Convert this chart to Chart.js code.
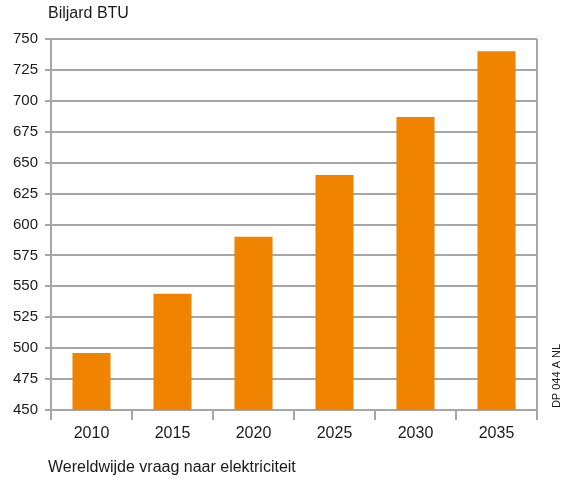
<!DOCTYPE html>
<html>
<head>
<meta charset="utf-8">
<script src="https://cdn.jsdelivr.net/npm/chart.js@4"></script>
<style>
  html, body { margin: 0; padding: 0; background: #fff; }
  #wrap { width: 569px; height: 480px; }
</style>
</head>
<body>
<div id="wrap"><canvas id="c" width="569" height="480"></canvas></div>
<script>
const years = ["2010", "2015", "2020", "2025", "2030", "2035"];
const demand = [496, 544, 590, 640, 687, 740];
const unitLabel = "Biljard BTU";
const footLabel = "Wereldwijde vraag naar elektriciteit";
const codeLabel = "DP 044 A NL";

const gridGrey = "#a6a6a6";
const fontFam = "'Liberation Sans', Arial, sans-serif";

/* loose texts around the plot + right frame line */
const extras = {
  id: "extras",
  afterDraw(chart) {
    const {ctx, chartArea} = chart;
    ctx.save();
    ctx.strokeStyle = gridGrey;
    ctx.lineWidth = 2;
    ctx.beginPath();
    ctx.moveTo(chartArea.right, chartArea.top);
    ctx.lineTo(chartArea.right, chartArea.bottom);
    ctx.stroke();

    ctx.fillStyle = "#1a1a1a";
    ctx.font = "16px " + fontFam;
    ctx.textBaseline = "middle";
    ctx.textAlign = "left";
    ctx.fillText(unitLabel, 48, 14);
    ctx.fillText(footLabel, 48, 468);

    ctx.font = "11px " + fontFam;
    ctx.translate(557, 376);
    ctx.rotate(-Math.PI / 2);
    ctx.textAlign = "center";
    ctx.fillText(codeLabel, 0, 0);
    ctx.restore();
  }
};

new Chart(document.getElementById("c"), {
  type: "bar",
  data: {
    labels: years,
    datasets: [{
      data: demand,
      backgroundColor: "#f08300",
      borderWidth: 0,
      barPercentage: 0.94,
      categoryPercentage: 0.5
    }]
  },
  options: {
    responsive: false,
    animation: false,
    layout: { padding: { top: 39, right: 32, left: 0, bottom: 0 } },
    plugins: { legend: { display: false }, tooltip: { enabled: false } },
    scales: {
      x: {
        offset: true,
        grid: {
          offset: true,
          drawOnChartArea: false,
          drawTicks: true,
          tickLength: 10,
          color: gridGrey,
          lineWidth: 2
        },
        border: { display: true, color: gridGrey, width: 2 },
        ticks: { color: "#1a1a1a", font: { family: fontFam, size: 16 }, padding: 4 },
        afterFit(scale) { scale.height = 70; }
      },
      y: {
        min: 450,
        max: 750,
        ticks: {
          stepSize: 25,
          color: "#1a1a1a",
          font: { family: fontFam, size: 15 },
          padding: 7
        },
        grid: { color: gridGrey, lineWidth: 2, tickLength: 6 },
        border: { display: true, color: gridGrey, width: 2 },
        afterFit(scale) { scale.width = 51; }
      }
    }
  },
  plugins: [extras]
});
</script>
</body>
</html>
